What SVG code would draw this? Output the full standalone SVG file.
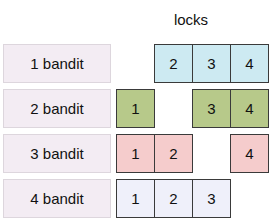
<svg xmlns="http://www.w3.org/2000/svg" width="272" height="222" viewBox="0 0 272 222">
<style>
text{font-family:"Liberation Sans",Arial,sans-serif;font-size:15px;fill:#111;text-anchor:middle}
.lab{fill:#f3ecf3;stroke:#ddd6dd;stroke-width:1}
.c{stroke:#3a3a3a;stroke-width:1}
.r1{fill:#cdeaf2}
.r2{fill:#b7c98a}
.r3{fill:#f5cccc}
.r4{fill:#eff0fa}
</style>
<rect width="272" height="222" fill="#fff"/>
<text x="191" y="25">locks</text>
<g id="bandit1">
<rect class="lab" x="3.5" y="44.5" width="107" height="38"/>
<text x="57" y="69">1 bandit</text>
</g>
<g id="bandit2">
<rect class="lab" x="3.5" y="89.5" width="107" height="38"/>
<text x="57" y="114">2 bandit</text>
</g>
<g id="bandit3">
<rect class="lab" x="3.5" y="134.5" width="107" height="38"/>
<text x="57" y="159">3 bandit</text>
</g>
<g id="bandit4">
<rect class="lab" x="3.5" y="179.5" width="107" height="38"/>
<text x="57" y="204">4 bandit</text>
</g>
<g id="locks1">
<rect class="c r1" x="154.5" y="44.5" width="38" height="38"/><text x="173.5" y="69">2</text>
<rect class="c r1" x="192.5" y="44.5" width="38" height="38"/><text x="211.5" y="69">3</text>
<rect class="c r1" x="230.5" y="44.5" width="38" height="38"/><text x="249.5" y="69">4</text>
</g>
<g id="locks2">
<rect class="c r2" x="116.5" y="89.5" width="38" height="38"/><text x="135.5" y="114">1</text>
<rect class="c r2" x="192.5" y="89.5" width="38" height="38"/><text x="211.5" y="114">3</text>
<rect class="c r2" x="230.5" y="89.5" width="38" height="38"/><text x="249.5" y="114">4</text>
</g>
<g id="locks3">
<rect class="c r3" x="116.5" y="134.5" width="38" height="38"/><text x="135.5" y="159">1</text>
<rect class="c r3" x="154.5" y="134.5" width="38" height="38"/><text x="173.5" y="159">2</text>
<rect class="c r3" x="230.5" y="134.5" width="38" height="38"/><text x="249.5" y="159">4</text>
</g>
<g id="locks4">
<rect class="c r4" x="116.5" y="179.5" width="38" height="38"/><text x="135.5" y="204">1</text>
<rect class="c r4" x="154.5" y="179.5" width="38" height="38"/><text x="173.5" y="204">2</text>
<rect class="c r4" x="192.5" y="179.5" width="38" height="38"/><text x="211.5" y="204">3</text>
</g>
<g id="connectors"></g>
</svg>
